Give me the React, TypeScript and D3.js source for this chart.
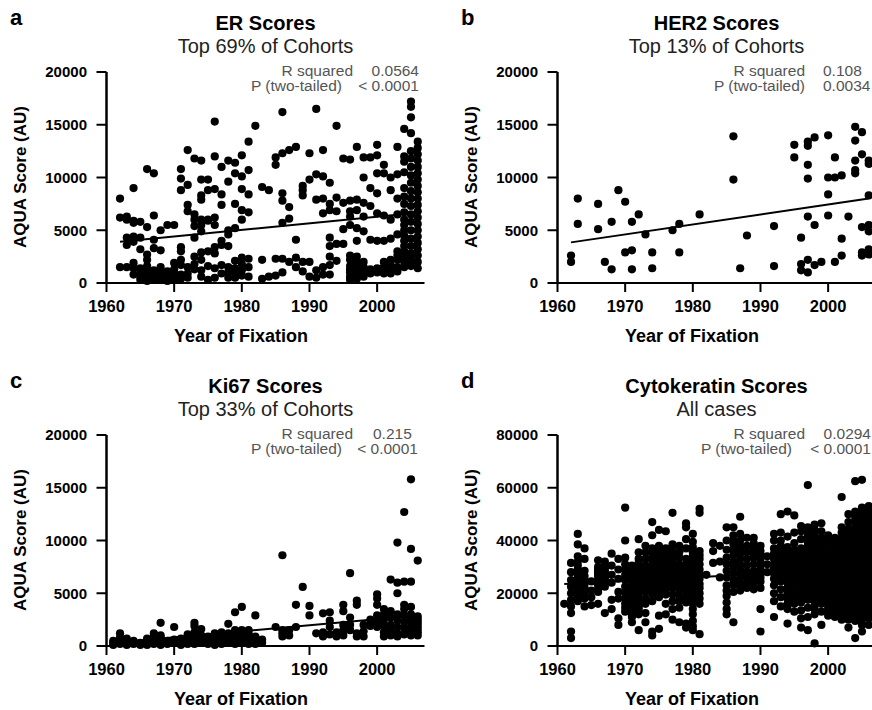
import React from "react";
import * as d3 from "d3";

// ---------- DATA ----------
const xTicks = [1960, 1970, 1980, 1990, 2000];
const yTicksSmall = [0, 5000, 10000, 15000, 20000];
const yTicksCK = [0, 20000, 40000, 60000, 80000];

// each column: [year, ...AQUA scores]
const erColumns: number[][] = [
  [1962, 8000, 6200, 1500],
  [1963, 6300, 6000, 4300, 3600, 1500],
  [1964, 9000, 5900, 5700, 4400, 3900, 1900, 1400, 800],
  [1965, 5800, 4300, 3200, 1400, 1000, 600, 300],
  [1966, 10800, 5300, 2700, 2200, 1600, 1200, 800, 500, 200],
  [1967, 10400, 6400, 4100, 3300, 1200, 700, 300],
  [1968, 5000, 3100, 1500, 1000, 600, 300],
  [1969, 5500, 1100, 800, 400, 200],
  [1970, 5500, 1900, 1300, 900, 600, 300],
  [1971, 10800, 9900, 8800, 3400, 3000, 2200, 1700, 800, 400],
  [1972, 12600, 9300, 7400, 6800, 1500, 900, 500],
  [1973, 11800, 6500, 6000, 5400, 4300, 2500, 1800, 1300],
  [1974, 11600, 9800, 8300, 7900, 6000, 5500, 4900, 2900, 2200, 1200, 600],
  [1975, 9800, 8800, 6000, 5900, 3000, 1600, 300],
  [1976, 15300, 12000, 8900, 6200, 5500, 3400, 2800, 1400, 500],
  [1977, 11000, 8400, 7400, 4000, 3600, 1700, 900],
  [1978, 11600, 9600, 5000, 4600, 3500, 1500, 1000, 500],
  [1979, 11400, 10400, 7500, 5200, 2100, 1400, 1000, 500],
  [1980, 12100, 10100, 8900, 6900, 6000, 2400, 1800, 1200, 700],
  [1981, 13400, 10700, 8400, 6700, 2300, 1500, 600],
  [1982, 14900],
  [1983, 9100, 2200, 400],
  [1984, 8800, 600],
  [1985, 11900, 11200, 2300, 700],
  [1986, 16200, 12300, 8500, 7800, 5700, 2300, 1000],
  [1987, 12600, 7200, 6100, 2000],
  [1988, 12900, 4100, 2400, 1500],
  [1989, 9200, 8800, 8300, 2000, 1100],
  [1990, 12300, 9800, 2000, 600],
  [1991, 16500, 10300, 7900, 1200, 500],
  [1992, 12600, 10100, 8000, 6600, 1500, 800],
  [1993, 9500, 7500, 6900, 4300, 3500, 2500, 1700, 800],
  [1994, 14900, 8100, 6800, 3700, 2100],
  [1995, 11800, 7600, 5100, 3700],
  [1996, 11700, 7800, 6800, 6300, 5500, 2600, 2200, 1600, 1300, 1000, 600, 300],
  [1997, 12900, 7900, 6900, 5200, 4000, 2500, 2000, 1600, 1200, 700, 400],
  [1998, 11900, 10000, 7600, 6300, 4900, 2000, 1500, 1200, 900, 600],
  [1999, 11900, 9000, 7300, 4100, 1300, 900],
  [2000, 13100, 12100, 10400, 8500, 6600, 4000, 1400, 1000],
  [2001, 11200, 10400, 6400, 4000, 2000, 1500, 1200, 900],
  [2002, 10000, 8800, 6000, 4200, 2200, 1700, 1200, 900],
  [2003, 12900, 10300, 8000, 6500, 4600, 3000, 2600, 2200, 1500, 1100],
  [2004, 14600, 12000, 11500, 10500, 9000, 8200, 7500, 6700, 6000, 5500, 5000, 4500, 4000, 3500, 3000, 2500, 2000, 1500],
  [2005, 17200, 16700, 15700, 14200, 12500, 11800, 11000, 10200, 9500, 8700, 8000, 7300, 6500, 5800, 5000, 4200, 3500, 2800, 2200, 1600],
  [2006, 13400, 12800, 12200, 11600, 11000, 10400, 9800, 9200, 8600, 8000, 7400, 6800, 6200, 5600, 5000, 4400, 3800, 3200, 2600, 2000, 1400],
];

const her2Columns: number[][] = [
  [1962, 2600, 2000],
  [1963, 8000, 5600],
  [1966, 7500, 5100],
  [1967, 2000],
  [1968, 5800, 1300],
  [1969, 8800],
  [1970, 7700, 2900],
  [1971, 5800, 3100, 1300],
  [1972, 6500],
  [1973, 4600],
  [1974, 2900, 1400],
  [1977, 5000],
  [1978, 5600, 2900],
  [1981, 6500],
  [1986, 13900, 9800],
  [1987, 1400],
  [1988, 4500],
  [1992, 5400, 1600],
  [1995, 13100, 11900],
  [1996, 4300, 1800, 1200],
  [1997, 13400, 13000, 11200, 9900, 6300, 2200, 1000],
  [1998, 13800, 5500, 1700],
  [1999, 2000],
  [2000, 14000, 10000, 8400, 6400],
  [2001, 11900, 10000, 2000],
  [2002, 10200, 4200, 2600],
  [2003, 6300],
  [2004, 14800, 13500, 11600, 10700, 10400],
  [2005, 14300, 12200, 5300, 2900, 2600],
  [2006, 11600, 11300, 8300, 5500, 4900, 3200, 2700],
];

const ki67Columns: number[][] = [
  [1961, 100, 300, 500],
  [1962, 200, 500, 800, 1200],
  [1963, 100, 400, 700],
  [1964, 200, 500],
  [1965, 100, 300],
  [1966, 100, 400, 700],
  [1967, 200, 500, 900, 1200],
  [1968, 2200, 1000, 800, 400, 100],
  [1969, 500, 200],
  [1970, 1800, 600, 300],
  [1971, 700, 400, 100],
  [1972, 1100, 900, 500, 200],
  [1973, 2200, 1900, 1300, 800, 500, 200],
  [1974, 1600, 1000, 600, 300],
  [1975, 900, 500, 200],
  [1976, 1200, 800, 400, 100],
  [1977, 1300, 900, 500, 200],
  [1978, 2100, 1200, 800, 400],
  [1979, 3200, 1500, 1100, 600, 200],
  [1980, 3700, 1500, 1000, 700, 300],
  [1981, 1500, 1200, 800, 400, 200],
  [1982, 2900, 900, 500, 200],
  [1983, 600, 300],
  [1985, 1800],
  [1986, 8600, 1500, 1200, 900],
  [1987, 1500, 1000],
  [1988, 3900, 1800],
  [1989, 5600],
  [1990, 3800, 2900],
  [1991, 1200],
  [1992, 3100, 1300, 900],
  [1993, 3200, 2400, 1800, 1100],
  [1994, 1300, 900],
  [1995, 3900, 3300, 2000, 1500, 1000],
  [1996, 6900, 2700, 2000, 1500],
  [1997, 4300, 3900, 1200, 900],
  [1998, 2000, 1400, 900],
  [1999, 2500, 2000, 1900],
  [2000, 4900, 4500, 3900, 2900, 2300, 1800],
  [2001, 3500, 3000, 2500, 1900, 1300, 900],
  [2002, 6300, 3300, 2700, 2000, 1500, 1000],
  [2003, 9800, 6000, 5000, 3000, 2400, 1800, 1200, 900],
  [2004, 12700, 6100, 3900, 3500, 2900, 2300, 1700, 1100],
  [2005, 15800, 9200, 6100, 3700, 3000, 2600, 2200, 1800, 1400, 1000],
  [2006, 8100, 2800, 2500, 2200, 1900, 1600, 1300, 1000],
];

const ckColumns: number[][] = [
  [1961, 16000],
  [1962, 3000, 5500, 12500, 15000, 17500, 20000, 22500, 25000, 28000, 31500],
  [1963, 42500, 38500, 34000, 32000, 30500, 29000, 27000, 25500, 24000, 22500, 21500, 20000, 19000, 17000],
  [1964, 37000, 33000, 28500, 26500, 25000, 23500, 22000, 21000, 20000, 18000, 15000],
  [1965, 24500, 21000, 18500, 15500],
  [1966, 32500, 30000, 29000, 28000, 27000, 26500, 25000, 24000, 23000, 21500, 20500, 16000],
  [1967, 32000, 30500, 29500, 28500, 27500, 26000, 25000, 24000, 22500, 12500],
  [1968, 35000, 30500, 27000, 24000, 17500, 14000],
  [1969, 33000, 29000, 25500, 20500, 18000, 10500, 8000],
  [1970, 52500, 40000, 33500, 31000, 29000, 27000, 25000, 22500, 20000, 18000, 16000, 14500, 13000],
  [1971, 30500, 29000, 27500, 26000, 24500, 23000, 21000, 19000, 17000, 16000, 15000, 13000, 12000, 11000, 9000],
  [1972, 40500, 35500, 33000, 31500, 30000, 28500, 27500, 26000, 25000, 23500, 22000, 20000, 18500, 16500, 15000, 14000, 12000, 6000],
  [1973, 38000, 35500, 33000, 30500, 29000, 28000, 26000, 24500, 22500, 20500, 18000, 16000, 12500, 9000],
  [1974, 47000, 42000, 37000, 35500, 34000, 32500, 31000, 29000, 28000, 26500, 25000, 24000, 22500, 21500, 19500, 17000, 5500, 4000],
  [1975, 44000, 38000, 36500, 35000, 33000, 31500, 29500, 27500, 26000, 24000, 22500, 20500, 18500, 11500, 6500],
  [1976, 43500, 37000, 35500, 34500, 33000, 31000, 29500, 28500, 26500, 25000, 24000, 23000, 21000, 19500, 16000, 12000],
  [1977, 50500, 38500, 37000, 35500, 33500, 32000, 30000, 28000, 26500, 25500, 23500, 22000, 19500, 17000, 14000, 10000],
  [1978, 38000, 35500, 33500, 31000, 29000, 27500, 26000, 24000, 22500, 21000, 19000, 17000, 14500, 9000],
  [1979, 46500, 45000, 40500, 37000, 33000, 31000, 29500, 28000, 26500, 24500, 23000, 21000, 19000, 18000, 16500, 8500, 7000],
  [1980, 42500, 39500, 37500, 35500, 34000, 32000, 30500, 28500, 27000, 25500, 24000, 22000, 20000, 18000, 16000, 14000, 12000, 9500, 7500, 6000],
  [1981, 52000, 50500, 36000, 34500, 33000, 31000, 29000, 27000, 25500, 23500, 22000, 20000, 18000, 16000, 4500],
  [1982, 27000],
  [1983, 39000, 36000, 31500],
  [1984, 38000, 32000, 26000],
  [1985, 45000, 40000, 36500, 33500, 31000, 28500, 26000, 23000, 21000, 19000, 16500, 14000, 12000],
  [1986, 45000, 42000, 40000, 38500, 36500, 34500, 32000, 30000, 27500, 25000, 23000, 20500, 9000],
  [1987, 49000, 42500, 40000, 38000, 36500, 35000, 33000, 31000, 29000, 27500, 26000, 24000, 22500, 21000],
  [1988, 41000, 38000, 35500, 33000, 30500, 28000, 26000, 24000, 22000],
  [1989, 41000, 39000, 37000, 35000, 33500, 31000, 28500, 27000, 25000, 23500, 21500],
  [1990, 38000, 36000, 34500, 33000, 31000, 29000, 27500, 26000, 24500, 22000, 14000, 5500],
  [1991, 34000, 31000, 28000],
  [1992, 42500, 40000, 37000, 35000, 33000, 31000, 29500, 27500, 25500, 23000, 20000, 17000, 11000],
  [1993, 50000, 43000, 40000, 38000, 36000, 34000, 32500, 30500, 28500, 26500, 24500, 21500, 18500, 15000],
  [1994, 51000, 41500, 37500, 35500, 33500, 31500, 29500, 27500, 26000, 24000, 22000, 20000, 18000, 16000, 14000, 8500],
  [1995, 49500, 43000, 39000, 36500, 34500, 32500, 30500, 28500, 27000, 25000, 23500, 21500, 19500, 17500, 16000, 13000],
  [1996, 45500, 43500, 40500, 37000, 35500, 34000, 32500, 31000, 29500, 28000, 26500, 25000, 23500, 22000, 20500, 19000, 17500, 16500, 13500, 10500, 7000],
  [1997, 61000, 45000, 43000, 41500, 39500, 38000, 36500, 35000, 33500, 32000, 30500, 29000, 27500, 26500, 25000, 23500, 22000, 20500, 19000, 17500, 14500, 11000, 6000],
  [1998, 46000, 44000, 42000, 40000, 38500, 37000, 35500, 34000, 32500, 31000, 29500, 27500, 26000, 24500, 23000, 21500, 20000, 18500, 17000, 15500, 14000, 12000, 1000],
  [1999, 46500, 43500, 41000, 39500, 37500, 35500, 34000, 32500, 31000, 29500, 28000, 26500, 25500, 24000, 22500, 21000, 19500, 18000, 16000, 13000, 8000],
  [2000, 42000, 40000, 38000, 36500, 35000, 33500, 32500, 30500, 29000, 27500, 26000, 25000, 23500, 22000, 20500, 19000, 17500, 16000, 14500, 13000, 11500],
  [2001, 41000, 39500, 38500, 37000, 35500, 34000, 32000, 31000, 29500, 28000, 26500, 25000, 23000, 21500, 20000, 18500, 17000, 15500, 14000, 12500, 11000],
  [2002, 56500, 45000, 43000, 41000, 39500, 38000, 36500, 35000, 33500, 32000, 30500, 29000, 27500, 26000, 24500, 23500, 22000, 20500, 19000, 17500, 16000, 14000, 12000, 10000],
  [2003, 50000, 47000, 44500, 42500, 40500, 39000, 37000, 35500, 34000, 32500, 31000, 29500, 28000, 26500, 25000, 23500, 22000, 20500, 19000, 17500, 16000, 14500, 13000, 11500, 10000, 7000],
  [2004, 62500, 51000, 49000, 47500, 45500, 44000, 42500, 41000, 39500, 38000, 36500, 35000, 33500, 32500, 31000, 29500, 28000, 26500, 25000, 23500, 22000, 20500, 19000, 17500, 16000, 14000, 12500, 11000, 9500, 3000],
  [2005, 63000, 52500, 50500, 49000, 47500, 46000, 44500, 43000, 41500, 40000, 38500, 37000, 35500, 34000, 32500, 31000, 29500, 28000, 26500, 25000, 23500, 22000, 20500, 19000, 17500, 16000, 14500, 13000, 11500, 10000, 8000, 5500],
  [2006, 53000, 51000, 49500, 48000, 46500, 45000, 43500, 42000, 40500, 39000, 37500, 36000, 34500, 33000, 31500, 30000, 28500, 27000, 25500, 24000, 22500, 21000, 19500, 18000, 16500, 15000, 13500, 12000, 10500, 8000],
];

// regression line endpoints [year, score]
const erFit = [[1962, 3900], [2006, 6650]];
const her2Fit = [[1962, 3850], [2006, 8000]];
const ki67Fit = [[1961, 300], [2006, 2900]];
const ckFit = [[1961, 23500], [2006, 29500]];

const letters = ["a", "b", "c", "d"];
const titles = ["ER Scores", "HER2 Scores", "Ki67 Scores", "Cytokeratin Scores"];
const subtitles = ["Top 69% of Cohorts", "Top 13% of Cohorts", "Top 33% of Cohorts", "All cases"];
const rSquared = ["0.0564", "0.108", "0.215", "0.0294"];
const pValues = ["< 0.0001", "0.0034", "< 0.0001", "< 0.0001"];

// ---------- LAYOUT ----------
const FONT = "'Liberation Sans', Arial, Helvetica, sans-serif";
const GRAY = "#555";

type StatLayout = { lab: [number, number]; val: [number, number]; valAnchor: ["start" | "end", "start" | "end"] };

const panels = [
  { ox: 0, oy: 0, cols: erColumns, fit: erFit, yMax: 20000, yTicks: yTicksSmall,
    stat: { lab: [353, 342], val: [419, 419], valAnchor: ["end", "end"] } as StatLayout },
  { ox: 451, oy: 0, cols: her2Columns, fit: her2Fit, yMax: 20000, yTicks: yTicksSmall,
    stat: { lab: [805, 805], val: [823, 823], valAnchor: ["start", "start"] } as StatLayout },
  { ox: 0, oy: 363, cols: ki67Columns, fit: ki67Fit, yMax: 20000, yTicks: yTicksSmall,
    stat: { lab: [353, 342], val: [373, 418], valAnchor: ["start", "end"] } as StatLayout },
  { ox: 451, oy: 363, cols: ckColumns, fit: ckFit, yMax: 80000, yTicks: yTicksCK,
    stat: { lab: [805, 792], val: [871, 871], valAnchor: ["end", "end"] } as StatLayout },
];

function Panel({ idx }: { idx: number }) {
  const p = panels[idx];
  const { ox, oy } = p;
  const left = 106.5 + ox;
  const bottom = 283 + oy;
  const top = 72 + oy;
  const x = d3.scaleLinear().domain([1960, 2007]).range([left, left + 318]);
  const y = d3.scaleLinear().domain([0, p.yMax]).range([bottom, top]);
  const pts: [number, number][] = p.cols.flatMap((c) => c.slice(1).map((v) => [c[0], v] as [number, number]));
  const line = d3.line<number[]>().x((d) => x(d[0])).y((d) => y(d[1]));
  const cx = left + 159;
  return (
    <g fontFamily={FONT}>
      <text x={10 + ox} y={25 + oy} fontSize={22} fontWeight="bold">{letters[idx]}</text>
      <text x={cx} y={30 + oy} fontSize={20} fontWeight="bold" textAnchor="middle">{titles[idx]}</text>
      <text x={cx} y={53 + oy} fontSize={20} textAnchor="middle" fill="#222">{subtitles[idx]}</text>

      <text x={p.stat.lab[0]} y={75.5 + oy} fontSize={15.5} fill={GRAY} textAnchor="end">R squared</text>
      <text x={p.stat.val[0]} y={75.5 + oy} fontSize={15.5} fill={GRAY} textAnchor={p.stat.valAnchor[0]}>{rSquared[idx]}</text>
      <text x={p.stat.lab[1]} y={91 + oy} fontSize={15.5} fill={GRAY} textAnchor="end">P (two-tailed)</text>
      <text x={p.stat.val[1]} y={91 + oy} fontSize={15.5} fill={GRAY} textAnchor={p.stat.valAnchor[1]}>{pValues[idx]}</text>

      {/* points */}
      {pts.map((d, i) => (
        <circle key={i} cx={x(d[0])} cy={y(d[1])} r={4.1} fill="#000" />
      ))}
      {/* regression */}
      <path d={line(p.fit) || ""} stroke="#000" strokeWidth={2} fill="none" />

      {/* axes */}
      <line x1={left} x2={left} y1={top} y2={bottom + 1} stroke="#000" strokeWidth={2.5} />
      <line x1={left - 1} x2={left + 318} y1={bottom} y2={bottom} stroke="#000" strokeWidth={2.2} />
      {p.yTicks.map((t) => (
        <g key={t}>
          <line x1={left - 10} x2={left} y1={y(t)} y2={y(t)} stroke="#000" strokeWidth={2} />
          <text x={87 + ox} y={y(t)} dy="0.35em" fontSize={15} fontWeight="bold" textAnchor="end">{t}</text>
        </g>
      ))}
      {xTicks.map((t) => (
        <g key={t}>
          <line x1={x(t)} x2={x(t)} y1={bottom} y2={bottom + 9} stroke="#000" strokeWidth={2} />
          <text x={x(t)} y={bottom + 29} fontSize={16.5} fontWeight="bold" textAnchor="middle">{t}</text>
        </g>
      ))}
      <text transform={`translate(${26 + ox},${177 + oy}) rotate(-90)`} fontSize={17} fontWeight="bold" textAnchor="middle">AQUA Score (AU)</text>
      <text x={241 + ox} y={342 + oy} fontSize={18} fontWeight="bold" textAnchor="middle">Year of Fixation</text>
    </g>
  );
}

export default function App() {
  return (
    <svg width={872} height={710} viewBox="0 0 872 710" style={{ position: "absolute", left: 0, top: 0, background: "#fff" }}>
      <rect width={872} height={710} fill="#fff" />
      {panels.map((_, i) => (
        <Panel key={i} idx={i} />
      ))}
    </svg>
  );
}
